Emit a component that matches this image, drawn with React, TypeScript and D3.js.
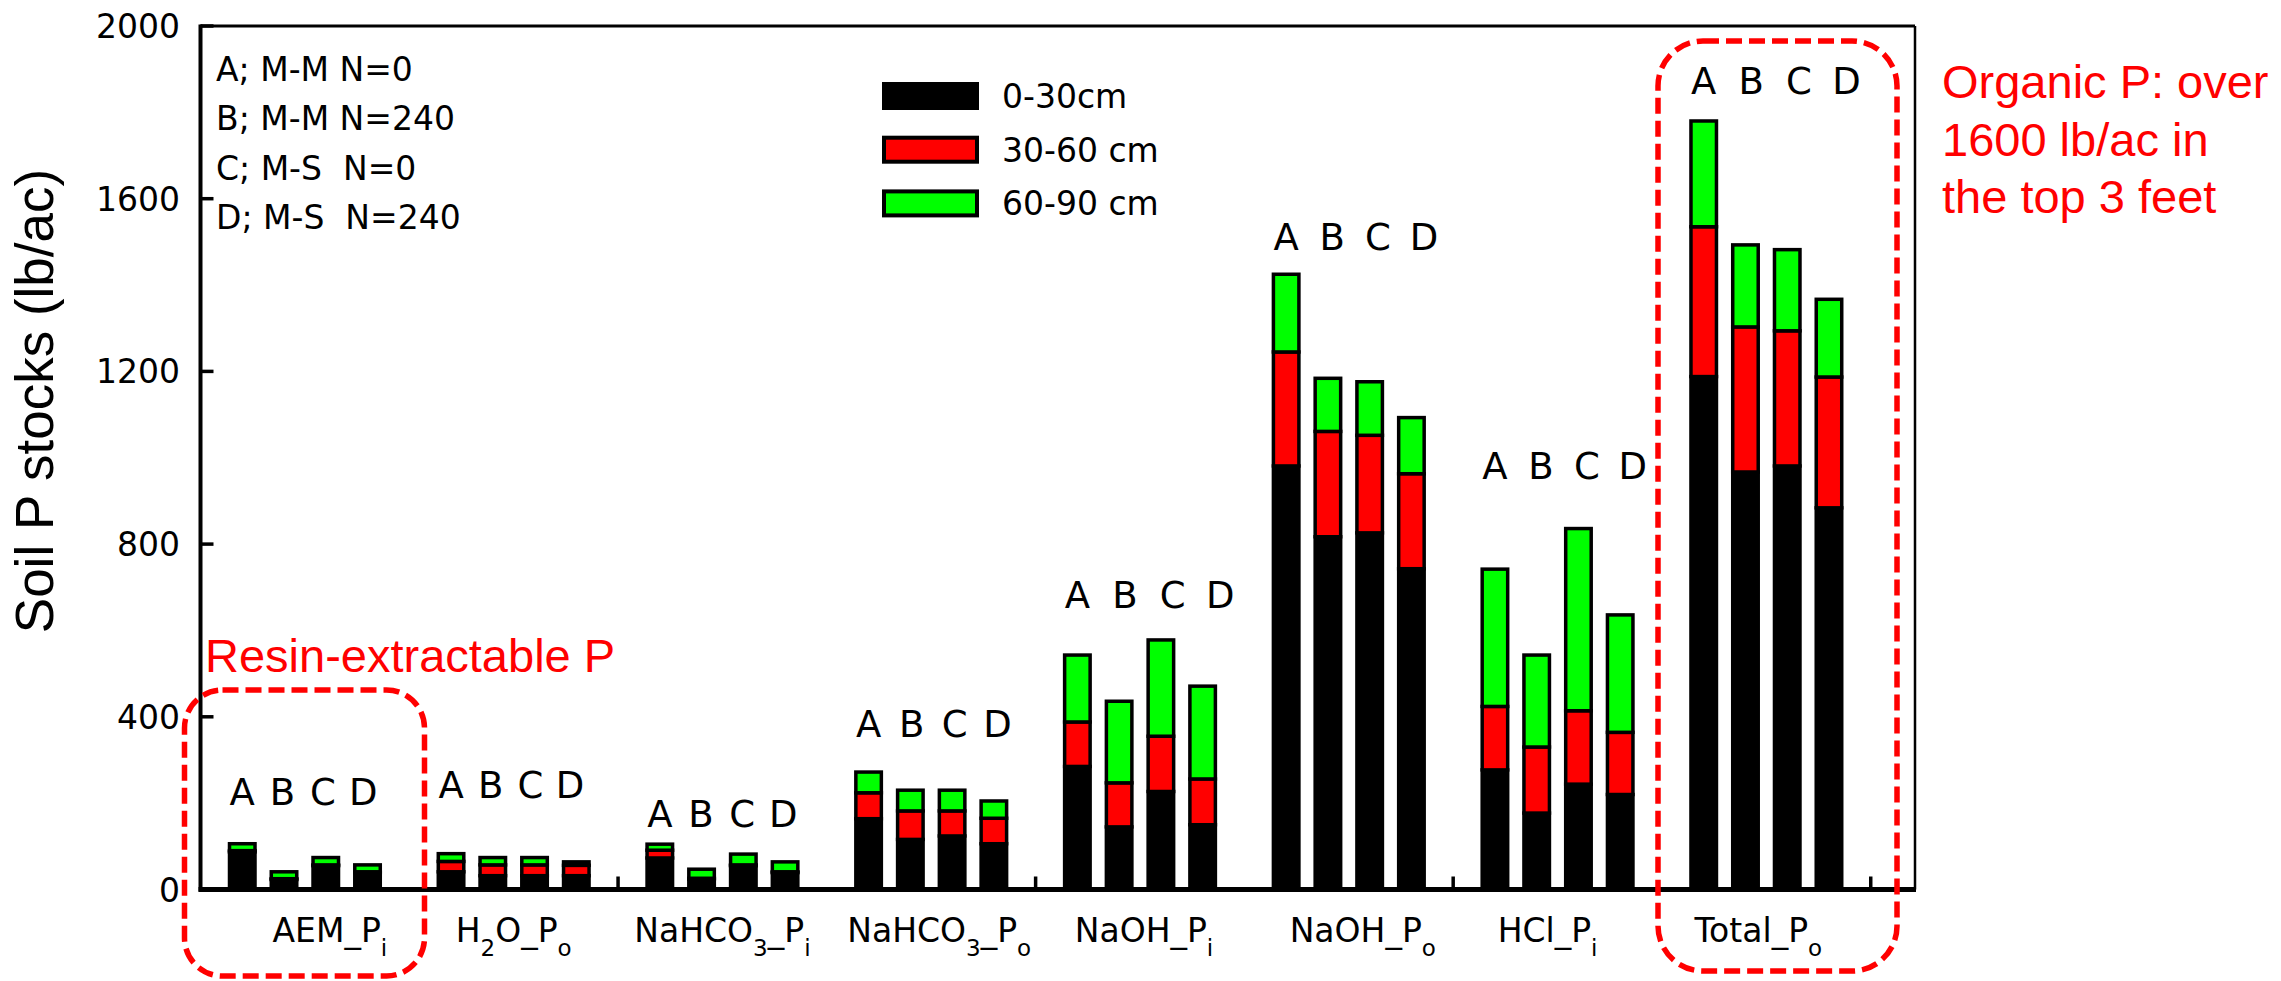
import React from "react";
import * as d3 from "d3";

// fractions on the x axis; "~" marks the next character as a subscript
const categories = [
  "AEM_P~i",
  "H~2O_P~o",
  "NaHCO~3_P~i",
  "NaHCO~3_P~o",
  "NaOH_P~i",
  "NaOH_P~o",
  "HCl_P~i",
  "Total_P~o",
];
const treatments = ["A", "B", "C", "D"];
const treatmentNotes = ["A; M-M N=0", "B; M-M N=240", "C; M-S  N=0", "D; M-S  N=240"];
const depths = ["0-30cm", "30-60 cm", "60-90 cm"];

// soil P stocks (lb/ac), one row per fraction, columns A-D
const depth0to30 = [
  [87, 23, 55, 39],
  [41, 32, 32, 32],
  [73, 24, 55, 39],
  [164, 116, 124, 106],
  [285, 145, 227, 150],
  [981, 817, 826, 743],
  [277, 177, 244, 220],
  [1188, 967, 981, 884],
];
const depth30to60 = [
  [3, 2, 2, 2],
  [24, 25, 25, 24],
  [18, 2, 2, 2],
  [60, 66, 58, 59],
  [103, 102, 128, 106],
  [264, 244, 226, 220],
  [147, 153, 170, 144],
  [347, 336, 313, 303],
];
const depth60to90 = [
  [16, 16, 17, 16],
  [18, 17, 17, 8],
  [14, 21, 25, 23],
  [48, 48, 48, 40],
  [155, 189, 223, 215],
  [180, 123, 124, 130],
  [318, 213, 422, 272],
  [245, 190, 188, 180],
];
const yTicks = [0, 400, 800, 1200, 1600, 2000];
const xTicks = [10, 20, 30, 40];

// where the A B C D letters sit above each fraction (lb/ac) and how far apart (bar widths)
const letterLevels = [196, 212, 145, 353, 651, 1481, 950, 1843];
const letterStep = [0.965, 0.95, 0.985, 1.03, 1.14, 1.1, 1.1, 1.14];
// small horizontal nudges of the fraction labels (px)
const labelNudge = [25, 0, 0, 8, 4, 14, -10, -8];

const W = 2281;
const H = 981;
const colors = ["#000000", "#ff0000", "#00ff00"];
const pixFont = "'DejaVu Sans', Verdana, sans-serif";
const arialFont = "'Liberation Sans', Arial, sans-serif";

const x = d3.scaleLinear().domain([0, 41.06]).range([200.5, 1915]);
const y = d3.scaleLinear().domain([0, 2000]).range([889.5, 26]);
const barW = 25.5;

type Row = { g: number; j: number; d0: number; d1: number; d2: number };

const rows: Row[] = categories.flatMap((_, g) =>
  treatments.map((_, j) => ({
    g,
    j,
    d0: depth0to30[g][j],
    d1: depth30to60[g][j],
    d2: depth60to90[g][j],
  }))
);
const series = d3.stack<Row>().keys(["d0", "d1", "d2"])(rows);
const barPos = (g: number, j: number) => g * 5 + j + 1;

function parseLabel(s: string) {
  const parts: { t: string; sub: boolean }[] = [];
  let buf = "";
  for (let i = 0; i < s.length; i++) {
    if (s[i] === "~") {
      if (buf) parts.push({ t: buf, sub: false });
      buf = "";
      parts.push({ t: s[i + 1], sub: true });
      i++;
    } else buf += s[i];
  }
  if (buf) parts.push({ t: buf, sub: false });
  return parts;
}

const CategoryLabel = ({ label, cx }: { label: string; cx: number }) => {
  const parts = parseLabel(label);
  let down = false;
  return (
    <text x={cx} y={942} textAnchor="middle" fontFamily={pixFont} fontSize={33}>
      {parts.map((p, i) => {
        let dy = 0;
        if (p.sub && !down) {
          dy = 14;
          down = true;
        } else if (!p.sub && down) {
          dy = -14;
          down = false;
        }
        return (
          <tspan key={i} dy={dy} fontSize={p.sub ? 23 : 33}>
            {p.t}
          </tspan>
        );
      })}
    </text>
  );
};

export default function App() {
  return (
    <svg
      width={W}
      height={H}
      style={{ position: "absolute", left: 0, top: 0, background: "#fff" }}
    >
      <rect width={W} height={H} fill="#fff" />

      {/* stacked bars */}
      {series.map((s, k) =>
        s.map((d, i) => {
          const r = rows[i];
          return (
            <rect
              key={`${k}-${i}`}
              x={x(barPos(r.g, r.j)) - barW / 2}
              y={y(d[1])}
              width={barW}
              height={Math.max(0, y(d[0]) - y(d[1]))}
              fill={colors[k]}
              stroke="#000"
              strokeWidth={3.5}
            />
          );
        })
      )}

      {/* frame */}
      <line x1={x(0)} x2={1915} y1={y(2000)} y2={y(2000)} stroke="#000" strokeWidth={3} />
      <line x1={1915} x2={1915} y1={y(2000)} y2={y(0)} stroke="#000" strokeWidth={2.5} />
      <line x1={x(0)} x2={x(0)} y1={y(2000) - 1.5} y2={y(0) + 2} stroke="#000" strokeWidth={4} />
      <line x1={x(0) - 2} x2={1916} y1={y(0)} y2={y(0)} stroke="#000" strokeWidth={5} />

      {/* y ticks */}
      {yTicks.map((t) => (
        <g key={t}>
          <line x1={x(0)} x2={x(0) + 13} y1={y(t)} y2={y(t)} stroke="#000" strokeWidth={3.5} />
          <text x={180} y={y(t) + 12} textAnchor="end" fontFamily={pixFont} fontSize={33}>
            {t}
          </text>
        </g>
      ))}

      {/* x ticks */}
      {xTicks.map((t) => (
        <line key={t} x1={x(t)} x2={x(t)} y1={y(0)} y2={y(0) - 13} stroke="#000" strokeWidth={3.5} />
      ))}

      {/* fraction labels */}
      {categories.map((c, g) => (
        <CategoryLabel key={c} label={c} cx={x(g * 5 + 2.5) + labelNudge[g]} />
      ))}

      {/* A B C D letters */}
      {categories.map((c, g) =>
        treatments.map((t, j) => (
          <text
            key={`${c}-${t}`}
            x={x(barPos(g, 0) + j * letterStep[g])}
            y={y(letterLevels[g])}
            textAnchor="middle"
            fontFamily={pixFont}
            fontSize={37}
          >
            {t}
          </text>
        ))
      )}

      {/* y axis title */}
      <text
        transform="translate(53,401) rotate(-90)"
        textAnchor="middle"
        fontFamily={arialFont}
        fontSize={53}
      >
        Soil P stocks (lb/ac)
      </text>

      {/* treatment key */}
      {treatmentNotes.map((n, i) => (
        <text
          key={n}
          x={216}
          y={81 + i * 49.3}
          fontFamily={pixFont}
          fontSize={33}
          style={{ whiteSpace: "pre" }}
        >
          {n}
        </text>
      ))}

      {/* depth legend */}
      {depths.map((d, i) => {
        const cy = 96 + i * 53.7;
        return (
          <g key={d}>
            <rect x={884} y={cy - 12} width={93} height={24} fill={colors[i]} stroke="#000" strokeWidth={4} />
            <text x={1002} y={cy + 12} fontFamily={pixFont} fontSize={33}>
              {d}
            </text>
          </g>
        );
      })}

      {/* highlight boxes */}
      <rect
        x={184.5}
        y={690}
        width={240}
        height={286}
        rx={38}
        fill="none"
        stroke="#ff0000"
        strokeWidth={5.5}
        strokeDasharray="16 7"
      />
      <rect
        x={1658}
        y={41}
        width={239}
        height={930}
        rx={45}
        fill="none"
        stroke="#ff0000"
        strokeWidth={5.5}
        strokeDasharray="16 7"
      />

      <text x={205} y={672} fontFamily={arialFont} fontSize={47} fill="#ff0000">
        Resin-extractable P
      </text>
      {["Organic P: over", "1600 lb/ac in", "the top 3 feet"].map((l, i) => (
        <text key={l} x={1942} y={98 + i * 57.5} fontFamily={arialFont} fontSize={47} fill="#ff0000">
          {l}
        </text>
      ))}
    </svg>
  );
}
